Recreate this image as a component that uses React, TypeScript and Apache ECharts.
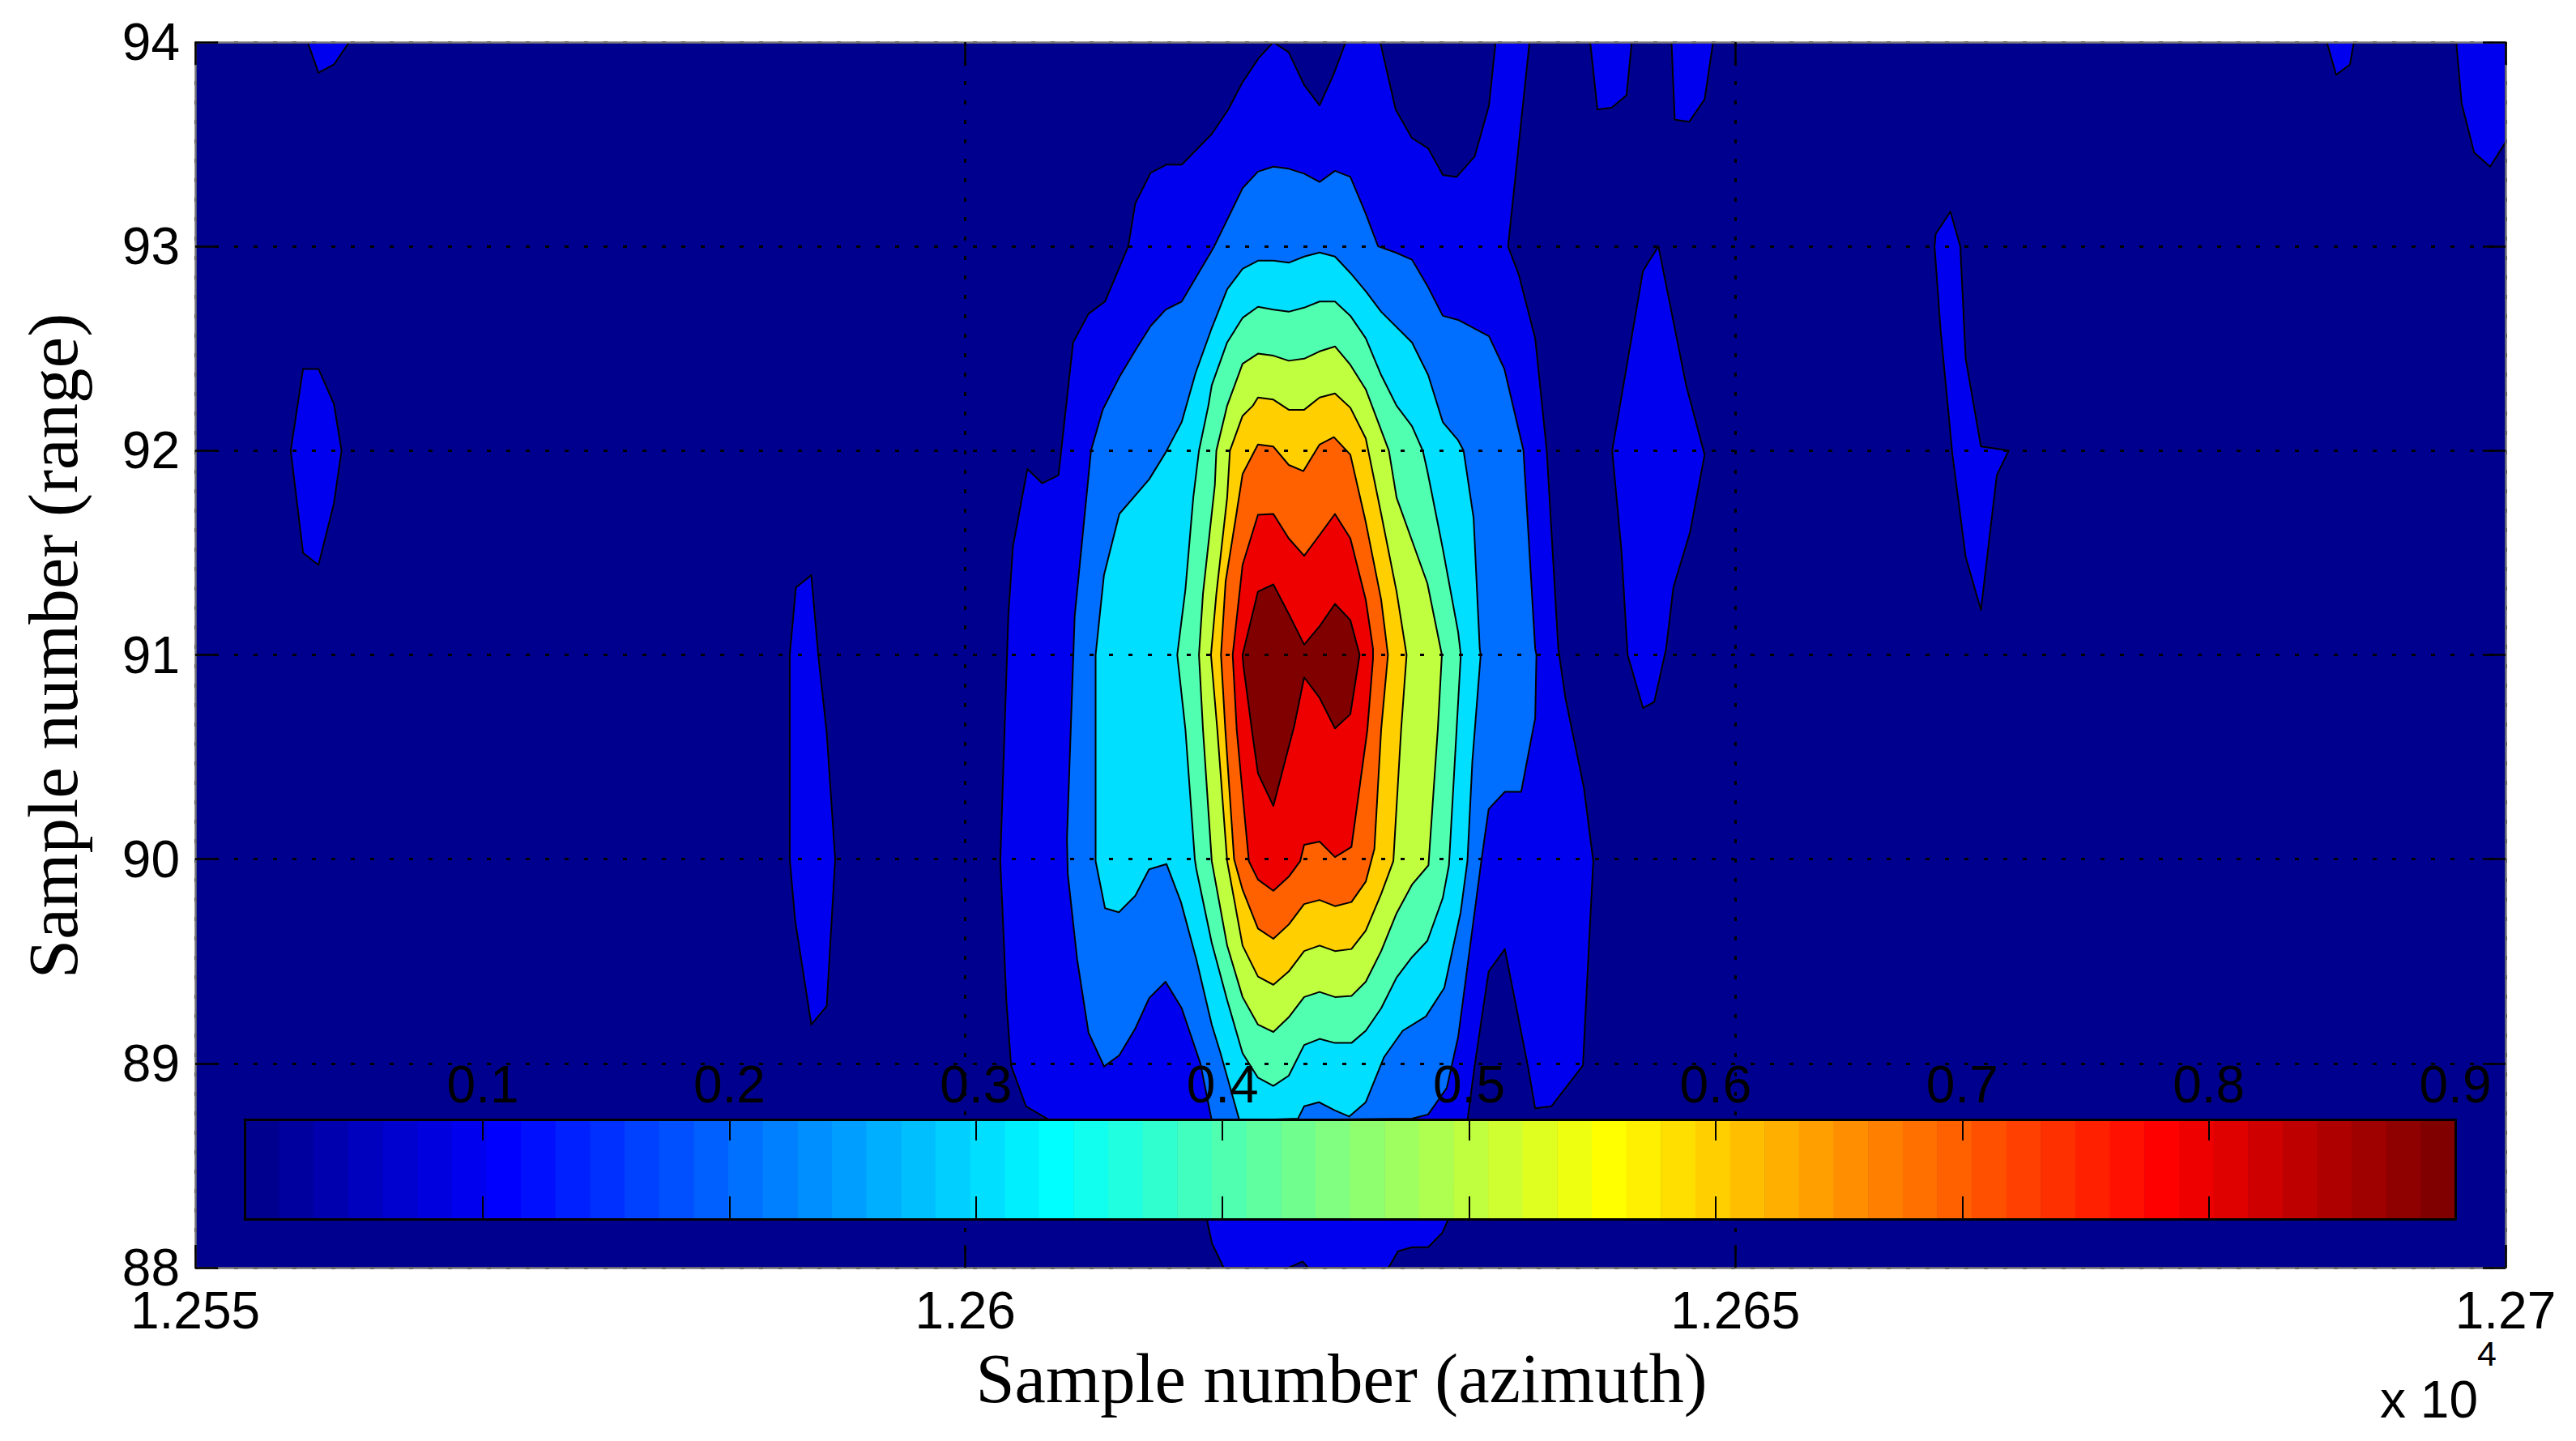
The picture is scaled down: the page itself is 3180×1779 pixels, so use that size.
import React, { useEffect, useRef } from "react";
import * as echarts from "echarts";

// Axis ranges and tick labels
const xMin = 12550;
const xMax = 12700;
const xStep = 50;
const xTickLabels: Record<number, string> = { 12550: "1.255", 12600: "1.26", 12650: "1.265", 12700: "1.27" };
const yMin = 88;
const yMax = 94;
const colorbarMin = 0.0034;
const colorbarMax = 0.9;
const colorbarTicks = [0.1, 0.2, 0.3, 0.4, 0.5, 0.6, 0.7, 0.8, 0.9];

// Filled contour regions, [sample azimuth, sample range], outermost level first.
const level1: number[][][] = [
  [[12620,94],[12621,93.95],[12622,93.79],[12623,93.69],[12623.9,93.84],[12624.7,94],[12626.94,94],[12627.94,93.67],[12629,93.53],[12630.05,93.48],[12631,93.35],[12631.9,93.34],[12633.07,93.44],[12634,93.69],[12634.43,94],[12636.63,94],[12635.24,93],[12635.94,92.86],[12637,92.55],[12637.75,92],[12638.5,91.03],[12638.96,90.79],[12640.16,90.35],[12640.77,89.99],[12640.37,89.4],[12640.1,88.99],[12638.05,88.79],[12637,88.78],[12636.54,88.98],[12635.03,89.56],[12633.98,89.45],[12633.07,88.99],[12632.6,88.72],[12631.32,88.23],[12630.96,88.17],[12630.05,88.1],[12629,88.1],[12628.09,88.08],[12627.48,88],[12616.77,88],[12616.01,88.12],[12615.7,88.23],[12605.3,88.73],[12603.94,88.79],[12602.97,88.99],[12602.67,89.3],[12602.43,89.72],[12602.27,89.99],[12602.79,91.19],[12603.09,91.53],[12604.03,91.91],[12605,91.84],[12606.05,91.88],[12607,92.53],[12608,92.67],[12609.07,92.73],[12610.58,93],[12611.03,93.21],[12612.03,93.36],[12613.05,93.4],[12614.05,93.4],[12616,93.55],[12617.07,93.67],[12617.97,93.8],[12619.03,93.92]],
  [[12557.3,94],[12558,93.85],[12559,93.89],[12560,94]],
  [[12557,92.4],[12558,92.4],[12559,92.23],[12559.5,92],[12559,91.74],[12558,91.44],[12557,91.5],[12556.2,92]],
  [[12589,91.33],[12590,91.39],[12590.45,91],[12591,90.62],[12591.55,90],[12591,89.28],[12590,89.19],[12588.95,89.7],[12588.6,90],[12588.6,91]],
  [[12640.57,94],[12641.04,93.67],[12641.98,93.68],[12642.93,93.74],[12643.27,94]],
  [[12645.85,94],[12646.06,93.62],[12647,93.61],[12648,93.72],[12648.55,94]],
  [[12645,93],[12646.8,92.32],[12648,91.98],[12647.05,91.6],[12645.97,91.33],[12645.5,91.03],[12644.73,90.77],[12644,90.74],[12643,91],[12642.6,91.51],[12642,92],[12644,92.88]],
  [[12663.96,93.17],[12663,93.06],[12662.93,93],[12663.32,92.59],[12664.09,91.98],[12664.95,91.48],[12665.94,91.22],[12666.97,91.88],[12667.74,92],[12666.88,92.01],[12665.94,92.02],[12664.95,92.45],[12664.6,93]],
  [[12688.4,94],[12689,93.84],[12689.9,93.89],[12690.15,94]],
  [[12696.8,94],[12697.15,93.7],[12697.96,93.46],[12699,93.39],[12700,93.51],[12700,94]],
];
const level0Spots: number[][][] = [
  [[12621,88],[12621.9,88.03],[12622.26,88]],
];
const level2: number[][][] = [
  [[12618,93.285],[12619,93.366],[12620,93.39],[12621,93.38],[12622,93.356],[12623,93.315],[12624,93.37],[12625,93.34],[12626,93.16],[12626.8,93],[12627.94,92.97],[12629,92.935],[12630.05,92.8],[12631,92.66],[12632,92.64],[12634,92.56],[12635,92.4],[12636.24,92],[12637,91.03],[12637.08,91],[12637,90.69],[12636.09,90.33],[12635.03,90.33],[12633.98,90.245],[12633.5,89.99],[12632,89.13],[12631.26,88.88],[12630.05,88.75],[12629,88.73],[12616,88.72],[12615.26,89],[12614.05,89.27],[12613,89.4],[12611.94,89.32],[12611.03,89.17],[12610,89.04],[12609.01,88.985],[12608,89.15],[12607.26,89.51],[12606.65,89.93],[12606.6,90.1],[12607.1,91.19],[12608.16,92],[12608.92,92.2],[12610,92.36],[12611.03,92.49],[12612.03,92.61],[12613,92.69],[12614.05,92.73],[12616.16,93],[12617,93.13]],
];
const level3: number[][][] = [
  [[12617,92.79],[12618,92.89],[12619,92.93],[12620,92.93],[12621,92.92],[12622,92.95],[12623,92.97],[12624,92.95],[12625,92.87],[12626,92.78],[12627,92.68],[12629,92.53],[12630.05,92.37],[12631,92.14],[12632,92.05],[12632.35,92],[12633,91.67],[12633.4,91.03],[12633.46,91],[12632.92,90.48],[12632.6,89.99],[12632.16,89.74],[12631.1,89.37],[12629.9,89.23],[12628.4,89.16],[12627.18,89.03],[12626,88.81],[12624.92,88.74],[12624,88.77],[12622.96,88.81],[12622,88.79],[12621.6,88.73],[12617.8,88.72],[12616.57,89.05],[12616,89.19],[12615,89.51],[12614,89.79],[12613.06,89.976],[12611.93,89.95],[12611.03,89.82],[12609.97,89.74],[12609.07,89.76],[12608.46,89.99],[12608.46,91],[12609,91.39],[12610,91.69],[12611.94,91.86],[12613,91.99],[12614.05,92.14],[12614.95,92.38],[12616,92.6]],
];
const level4: number[][][] = [
  [[12618,92.65],[12619,92.704],[12620,92.69],[12621,92.68],[12622,92.7],[12623,92.73],[12624,92.73],[12625,92.66],[12626,92.55],[12627,92.37],[12628,92.22],[12629,92.12],[12629.7,92],[12630,91.9],[12631,91.52],[12632,91.11],[12632.17,91],[12631.9,90.64],[12631.4,89.97],[12631,89.81],[12630,89.6],[12629,89.52],[12628,89.42],[12627,89.27],[12626,89.16],[12625.07,89.1],[12624,89.1],[12623,89.12],[12622,89.09],[12621,88.94],[12620,88.89],[12619,88.93],[12618,89.05],[12617,89.31],[12616,89.59],[12615,89.95],[12614.9,90],[12614.29,90.635],[12613.76,91],[12614.29,91.32],[12614.8,91.77],[12615.17,92],[12615.78,92.22],[12616,92.32],[12617,92.53]],
];
const level5: number[][][] = [
  [[12618,92.425],[12619,92.475],[12620,92.465],[12621,92.44],[12622,92.45],[12623,92.486],[12624,92.51],[12625,92.42],[12626,92.3],[12627,92.1],[12627.5,92],[12628,91.77],[12629,91.56],[12630,91.35],[12630.86,91.03],[12630.94,91],[12630.68,90.64],[12630.07,89.97],[12629,89.875],[12628,89.735],[12627,89.55],[12626,89.4],[12625.07,89.33],[12624,89.325],[12623,89.35],[12622,89.325],[12621,89.226],[12620,89.154],[12619,89.19],[12618,89.325],[12617,89.577],[12616,89.99],[12615.43,90.635],[12615.17,91],[12615.43,91.3],[12616.2,91.83],[12616.3,92],[12617,92.22]],
];
const level6: number[][][] = [
  [[12618,92.17],[12618.67,92.22],[12619,92.26],[12620,92.25],[12621,92.2],[12622,92.2],[12623,92.26],[12624,92.28],[12625,92.21],[12626,92.06],[12627,91.69],[12628,91.31],[12628.65,91],[12628.3,90.64],[12627.79,89.99],[12627,89.83],[12626,89.65],[12625.07,89.56],[12624,89.55],[12623,89.577],[12622,89.55],[12621,89.45],[12620,89.385],[12619,89.425],[12618,89.577],[12617,89.99],[12616.36,90.635],[12615.95,91],[12616.3,91.3],[12617,91.77],[12617.18,92]],
];
const level7: number[][][] = [
  [[12618,91.885],[12619,92.03],[12620,92.02],[12621,91.93],[12621.95,91.9],[12623,92.03],[12623.93,92.066],[12625,91.98],[12626,91.65],[12627,91.27],[12627.44,91],[12627,90.635],[12626.56,90.05],[12626,89.89],[12625.07,89.79],[12624,89.77],[12623,89.8],[12622,89.78],[12621,89.68],[12620,89.61],[12619,89.66],[12618,89.85],[12617.45,90],[12616.88,90.635],[12616.6,91],[12616.9,91.36],[12617.6,91.69]],
];
const level8: number[][][] = [
  [[12619,91.686],[12620,91.69],[12621,91.57],[12622,91.485],[12623,91.587],[12624,91.69],[12625,91.57],[12626,91.27],[12626.47,91.03],[12626.47,90.98],[12626.1,90.63],[12625.07,90.06],[12624,90.01],[12623,90.086],[12622,90.07],[12621.74,89.99],[12621,89.914],[12620,89.845],[12619,89.9],[12618.41,89.99],[12618,90.32],[12617.62,90.635],[12617.36,91],[12618,91.44]],
];
const level9: number[][][] = [
  [[12619,91.31],[12620,91.345],[12621,91.2],[12622,91.05],[12623,91.14],[12624,91.25],[12625,91.17],[12625.6,91],[12625,90.71],[12624,90.64],[12623,90.79],[12622,90.89],[12621.35,90.65],[12621,90.55],[12620,90.26],[12619,90.42],[12618.6,90.635],[12618.05,90.95],[12618,91]],
];

const levelColors = ["#0000EF", "#006FFF", "#00DFFF", "#50FFAF", "#BFFF40", "#FFCF00", "#FF6000", "#EF0000", "#800000"];
const backgroundColor = "#00008F";
const contourLevels = [level1, level2, level3, level4, level5, level6, level7, level8, level9];

const FONT = "Liberation Sans";
const SERIF = "Liberation Serif";
const TICK = "#000";

// MATLAB "jet" colormap with 64 bands, for the colorbar.
function jet(i: number): string {
  const f = (t: number) => Math.round(255 * Math.max(0, Math.min(1, t)));
  const p = (i + 1) / 16;
  const r = f(Math.min(p - 1.5, 4.5 - p));
  const g = f(Math.min(p - 0.5, 3.5 - p));
  const b = f(Math.min(p + 0.5, 2.5 - p));
  return `rgb(${r},${g},${b})`;
}
const colorbarBands = Array.from({ length: 64 }, (_, i) => i);

function contourSeries(name: string, polygons: number[][][], fill: string) {
  return {
    type: "custom",
    name,
    xAxisIndex: 0,
    yAxisIndex: 0,
    z: 2,
    clip: true,
    silent: true,
    data: polygons.map((_, i) => [i]),
    renderItem: (params: any, api: any) => ({
      type: "polygon",
      shape: { points: polygons[params.dataIndex].map((p) => api.coord(p)) },
      style: { fill, stroke: "#000", lineWidth: 2, lineJoin: "round" },
    }),
  };
}

const colorbarSeries = {
  type: "custom",
  name: "colorbar",
  xAxisIndex: 2,
  yAxisIndex: 2,
  z: 10,
  silent: true,
  data: colorbarBands.map((i) => [i]),
  renderItem: (params: any, api: any) => {
    const w = (colorbarMax - colorbarMin) / colorbarBands.length;
    const i = params.dataIndex;
    const a = api.coord([colorbarMin + i * w, 1]);
    const b = api.coord([colorbarMin + (i + 1) * w, 0]);
    return {
      type: "rect",
      shape: { x: a[0], y: a[1], width: b[0] - a[0] + 0.5, height: b[1] - a[1] },
      style: { fill: jet(i) },
    };
  },
};

const mainTick = { show: true, inside: true, length: 28, lineStyle: { color: TICK, width: 2.5 } };
const edgeLine = { show: true, onZero: false, lineStyle: { color: "#777", width: 2.5 } };
const gridDots = { show: true, lineStyle: { color: "#000", width: 3, type: [5, 19] } };
const barLine = { show: true, onZero: false, lineStyle: { color: "#000", width: 3 } };

const option: any = {
  animation: false,
  backgroundColor: "#fff",
  grid: [
    { left: 241, top: 52, width: 2852, height: 1513, show: true, backgroundColor, borderWidth: 0 },
    { left: 302, top: 1382, width: 2729, height: 123 },
  ],
  xAxis: [
    {
      type: "value", gridIndex: 0, position: "bottom", min: xMin, max: xMax, interval: xStep, z: 5,
      axisLine: edgeLine, axisTick: mainTick, splitLine: gridDots,
      axisLabel: { fontFamily: FONT, fontSize: 64, color: "#000", margin: 28, lineHeight: 50, formatter: (v: number) => xTickLabels[v] ?? "" },
      name: "Sample number (azimuth)", nameLocation: "middle", nameGap: 93,
      nameTextStyle: { fontFamily: SERIF, fontSize: 86.5, color: "#000", padding: [0, 22, 0, 0] },
    },
    {
      type: "value", gridIndex: 0, position: "top", min: xMin, max: xMax, interval: xStep, z: 5,
      axisLine: edgeLine, axisTick: mainTick, splitLine: { show: false }, axisLabel: { show: false },
    },
    {
      type: "value", gridIndex: 1, position: "top", min: colorbarMin, max: colorbarMax, z: 12,
      axisLine: barLine,
      axisTick: { show: true, inside: true, length: 26, customValues: colorbarTicks, lineStyle: { color: "#000", width: 2 } },
      splitLine: { show: false },
      axisLabel: { show: true, customValues: colorbarTicks, fontFamily: FONT, fontSize: 64, color: "#000", margin: 11, formatter: (v: number) => v.toFixed(1) },
    },
    {
      type: "value", gridIndex: 1, position: "bottom", min: colorbarMin, max: colorbarMax, z: 12,
      axisLine: barLine,
      axisTick: { show: true, inside: true, length: 28, customValues: colorbarTicks, lineStyle: { color: "#000", width: 2 } },
      splitLine: { show: false }, axisLabel: { show: false },
    },
  ],
  yAxis: [
    {
      type: "value", gridIndex: 0, position: "left", min: yMin, max: yMax, interval: 1, z: 5,
      axisLine: edgeLine, axisTick: mainTick, splitLine: gridDots,
      axisLabel: { fontFamily: FONT, fontSize: 64, color: "#000", margin: 19, lineHeight: 50 },
      name: "Sample number (range)", nameLocation: "middle", nameGap: 132,
      nameTextStyle: { fontFamily: SERIF, fontSize: 87, color: "#000", padding: [0, 0, 0, 22] },
    },
    {
      type: "value", gridIndex: 0, position: "right", min: yMin, max: yMax, interval: 1, z: 5,
      axisLine: edgeLine, axisTick: mainTick, splitLine: { show: false }, axisLabel: { show: false },
    },
    {
      type: "value", gridIndex: 1, position: "left", min: 0, max: 1, z: 12,
      axisLine: barLine,
      axisTick: { show: false }, splitLine: { show: false }, axisLabel: { show: false },
    },
    {
      type: "value", gridIndex: 1, position: "right", min: 0, max: 1, z: 12,
      axisLine: barLine,
      axisTick: { show: false }, splitLine: { show: false }, axisLabel: { show: false },
    },
  ],
  graphic: [
    { type: "text", x: 2938, y: 1728, z: 20, style: { text: "x 10", fontFamily: FONT, fontSize: 64, lineHeight: 50, fill: "#000", verticalAlign: "middle", align: "left" } },
    { type: "text", x: 3058, y: 1671, z: 20, style: { text: "4", fontFamily: FONT, fontSize: 43, lineHeight: 32, fill: "#000", verticalAlign: "middle", align: "left" } },
  ],
  series: [
    ...contourLevels.flatMap((polys, i) => {
      const s = [contourSeries(`level ${i + 1}`, polys, levelColors[i])];
      if (i === 0) s.push(contourSeries("level 0", level0Spots, backgroundColor));
      return s;
    }),
    colorbarSeries,
  ],
};

export default function App() {
  const ref = useRef<HTMLDivElement>(null);
  useEffect(() => {
    const chart = echarts.init(ref.current!, undefined, { renderer: "svg" });
    chart.setOption(option);
    return () => chart.dispose();
  }, []);
  return <div ref={ref} style={{ position: "absolute", left: 0, top: 0, width: 3180, height: 1779 }} />;
}
